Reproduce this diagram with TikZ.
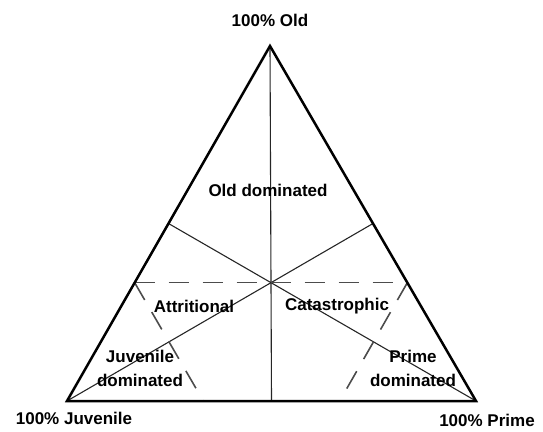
\documentclass[tikz,border=0pt]{standalone}
\usepackage{fontspec}
\setmainfont{Liberation Sans}
\usepackage{tikz}
\usetikzlibrary{calc}

\begin{document}
\begin{tikzpicture}[x=1pt, y=-1pt, font=\bfseries\fontsize{17}{24}\selectfont]
	\useasboundingbox (0,0) rectangle (543,431);
	\coordinate (old) at (270,46);
	\coordinate (juv) at (67,401);
	\coordinate (prime) at (476,401);
	\coordinate (oppold) at ($(juv)!0.5!(prime)$);
	\coordinate (oppjuv) at ($(old)!0.5!(prime)$);
	\coordinate (oppprime) at ($(old)!0.5!(juv)$);
	\foreach \v in {old,juv,prime}
	{
		\draw[line width=1.1pt, black!85] (\v) -- (opp\v);
	}
	\coordinate (dashl) at ($(juv)!1/3!(old)$);
	\coordinate (dashr) at ($(prime)!1/3!(old)$);
	\coordinate (footl) at ($(juv)!1/3!(prime)$);
	\coordinate (footr) at ($(prime)!1/3!(juv)$);
	\foreach \a/\b in {dashl/footl,dashl/dashr,dashr/footr}
	{
		\draw[line width=1.6pt, black!70, dash pattern=on 20pt off 14pt] (\a) -- (\b);
	}
	\draw[line width=2.5pt, line join=miter] (old) -- (juv) -- (prime) -- cycle;
	\node (oldlab) at (270,20) {100\% Old};
	\node (juvlab) at (74,418) {100\% Juvenile};
	\node (primelab) at (487,420) {100\% Prime};
	\node (olddom) at (268,190) {Old dominated};
	\node (attr) at (194,306) {Attritional};
	\node (cata) at (337,306) {Catastrophic};
	\node[align=center] (juvdom) at (140,368) {Juvenile\\dominated};
	\node[align=center] (primedom) at (413,368) {Prime\\dominated};
\end{tikzpicture}
\end{document}
